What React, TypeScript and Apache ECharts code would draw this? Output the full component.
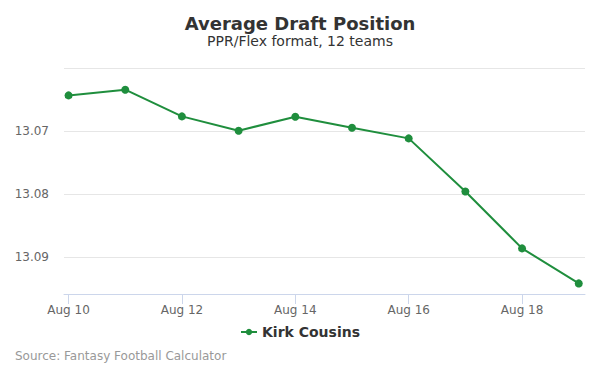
import React, { useEffect, useRef } from "react";
import * as echarts from "echarts";

const categories = ["Aug 10", "Aug 11", "Aug 12", "Aug 13", "Aug 14", "Aug 15", "Aug 16", "Aug 17", "Aug 18", "Aug 19"];
const adpValues = [13.06435, 13.06344, 13.06768, 13.06995, 13.06773, 13.06948, 13.07117, 13.07959, 13.08863, 13.09419];
const xLabelIndexes = [0, 2, 4, 6, 8];
const yTicks = [13.06, 13.07, 13.08, 13.09];
const seriesName = "Kirk Cousins";
const FONT = "'DejaVu Sans', sans-serif";
const GREEN = "#1f8e3d";

export default function App() {
  const ref = useRef<HTMLDivElement>(null);
  useEffect(() => {
    if (!ref.current) return;
    const chart = echarts.init(ref.current, null, { renderer: "svg" });
    chart.setOption({
      animation: false,
      backgroundColor: "#ffffff",
      textStyle: { fontFamily: FONT },
      title: {
        text: "Average Draft Position",
        subtext: "PPR/Flex format, 12 teams",
        left: "center",
        top: 9,
        itemGap: 2,
        textStyle: { fontFamily: FONT, fontSize: 18, fontWeight: "bold", color: "#333333" },
        subtextStyle: { fontFamily: FONT, fontSize: 14, color: "#333333" },
      },
      legend: {
        bottom: 31,
        left: "center",
        itemWidth: 16,
        itemHeight: 8,
        itemGap: 5,
        textStyle: { fontFamily: FONT, fontSize: 14, fontWeight: "bold", color: "#333333" },
        data: [seriesName],
      },
      graphic: [
        {
          type: "text",
          left: 15,
          top: 350,
          style: { text: "Source: Fantasy Football Calculator", fontFamily: FONT, fontSize: 12, fill: "#999999" },
        },
      ],
      grid: { left: 64, right: 15, top: 68, bottom: 81, containLabel: false },
      xAxis: {
        type: "value",
        min: -0.08,
        max: 9.11,
        splitLine: { show: false },
        axisLine: { show: true, lineStyle: { color: "#ccd6eb", width: 1 } },
        axisTick: {
          show: true,
          length: 10,
          lineStyle: { color: "#ccd6eb" },
          customValues: xLabelIndexes,
        },
        axisLabel: {
          customValues: xLabelIndexes,
          formatter: (v: number) => categories[Math.round(v)] ?? "",
          color: "#666666",
          fontSize: 12,
          fontFamily: FONT,
          margin: 10,
        },
      },
      yAxis: {
        type: "value",
        inverse: true,
        min: 13.06,
        max: 13.09587,
        axisLine: { show: false },
        axisTick: { show: false },
        splitLine: { show: true, lineStyle: { color: "#e6e6e6", width: 1 } },
        axisLabel: {
          customValues: yTicks.slice(1),
          formatter: (v: number) => v.toFixed(2),
          color: "#666666",
          fontSize: 12,
          fontFamily: FONT,
          margin: 15,
        },
        splitNumber: 4,
      },
      series: [
        {
          name: seriesName,
          type: "line",
          data: adpValues.map((v, i) => [i, v]),
          color: GREEN,
          lineStyle: { color: GREEN, width: 2 },
          itemStyle: { color: GREEN },
          symbol: "circle",
          symbolSize: 8,
          showSymbol: true,
        },
      ],
    });
    return () => chart.dispose();
  }, []);
  return <div ref={ref} style={{ width: 600, height: 375, position: "absolute", left: 0, top: 0 }} />;
}
